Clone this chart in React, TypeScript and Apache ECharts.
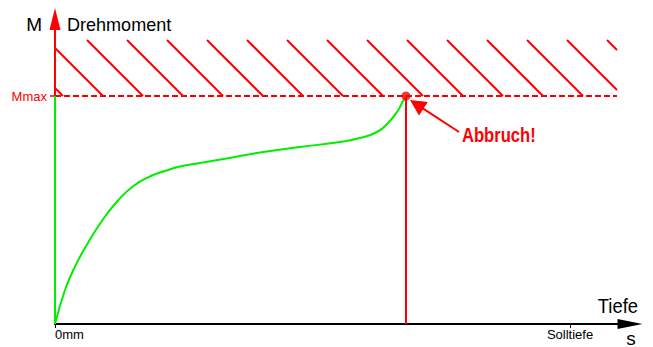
import React, { useEffect, useRef } from "react";
import * as echarts from "echarts";

// axis extents (1 unit = 5 px in both directions)
const X_MAX = 115;
const Y_MAX = 61;
const M_MAX = 45.6;
const ABBRUCH_X = 70.2;
const SOLL_X = 103;

// torque curve
const curveX = [0, 2, 4, 6.7, 10, 12.7, 15.7, 19, 22.3, 25, 29, 34.3, 41, 49, 57, 61, 64.4, 66.6, 68.4, 69.6, 70.2];
const curveY = [0, 6.8, 11.5, 16.4, 21.5, 24.8, 27.6, 29.5, 30.7, 31.5, 32.2, 33.1, 34.3, 35.4, 36.4, 37.2, 38.4, 40.2, 42.4, 44.6, 45.6];

// hatched forbidden zone above Mmax
const HATCH_TOP = 56.8;
const HATCH_RIGHT = 112.4;
const HATCH_X0 = 6.4;
const HATCH_STEP = 8;

// annotation arrow
const ARROW_FROM = [80.8, 38.4];
const ARROW_TIP = [71, 44.8];

const xLabels: Record<number, string> = { 0: "0mm", [SOLL_X]: "Solltiefe" };

const RED = "#ff0000";
const GREEN = "#00ee00";
const FONT = "'Liberation Sans', Arial, sans-serif";

function hatchSegments() {
  const segs: { coords: number[][] }[] = [];
  const h = HATCH_TOP - M_MAX;
  for (let k = -3; k < 20; k++) {
    const xt = HATCH_X0 + k * HATCH_STEP;
    const tmin = Math.max(0, -xt);
    const tmax = Math.min(h, HATCH_RIGHT - xt);
    if (tmin < tmax) {
      segs.push({ coords: [[xt + tmin, HATCH_TOP - tmin], [xt + tmax, HATCH_TOP - tmax]] });
    }
  }
  return segs;
}

export default function App() {
  const ref = useRef<HTMLDivElement>(null);
  useEffect(() => {
    const chart = echarts.init(ref.current!, null, { renderer: "svg" });
    // arrow head is centered on the end point: move it back half its length
    const headLenUnits = 16 / 5;
    const dx = ARROW_TIP[0] - ARROW_FROM[0];
    const dy = ARROW_TIP[1] - ARROW_FROM[1];
    const len = Math.hypot(dx, dy);
    const arrowEnd = [ARROW_TIP[0] - (dx / len) * headLenUnits / 2, ARROW_TIP[1] - (dy / len) * headLenUnits / 2];

    chart.setOption({
      animation: false,
      grid: { left: 55, right: 23, top: 19, bottom: 23 },
      xAxis: {
        type: "value",
        min: 0,
        max: X_MAX,
        splitLine: { show: false },
        axisLine: {
          onZero: false,
          lineStyle: { color: "#000", width: 2 },
          symbol: ["none", "triangle"],
          symbolSize: [10, 25],
        },
        axisTick: { customValues: [0, SOLL_X], length: 4, lineStyle: { color: "#000", width: 1 } },
        axisLabel: {
          customValues: [0, SOLL_X],
          formatter: (v: number) => xLabels[v] ?? "",
          color: "#000",
          fontSize: 13,
          fontFamily: FONT,
          margin: 4,
          alignMinLabel: "left",
        },
      },
      yAxis: {
        type: "value",
        min: 0,
        max: Y_MAX,
        splitLine: { show: false },
        axisLine: {
          onZero: false,
          lineStyle: { color: RED, width: 2 },
          symbol: ["none", "triangle"],
          symbolSize: [11, 22],
        },
        axisTick: { customValues: [M_MAX], length: 5, lineStyle: { color: RED, width: 1.5 } },
        axisLabel: {
          customValues: [M_MAX],
          formatter: () => "Mmax",
          color: RED,
          fontSize: 13,
          fontFamily: FONT,
          margin: 8,
        },
      },
      series: [
        {
          type: "lines",
          coordinateSystem: "cartesian2d",
          silent: true,
          lineStyle: { color: RED, width: 2, opacity: 1 },
          data: hatchSegments(),
          z: 3,
        },
        {
          type: "lines",
          coordinateSystem: "cartesian2d",
          silent: true,
          lineStyle: { color: RED, width: 2, type: [6, 3], opacity: 1 },
          data: [{ coords: [[0, M_MAX], [HATCH_RIGHT, M_MAX]] }],
          z: 3,
        },
        {
          type: "lines",
          coordinateSystem: "cartesian2d",
          silent: true,
          lineStyle: { color: GREEN, width: 2, opacity: 1 },
          data: [{ coords: [[0, 0], [0, M_MAX]] }],
          z: 4,
        },
        {
          type: "lines",
          coordinateSystem: "cartesian2d",
          silent: true,
          lineStyle: { color: RED, width: 2, opacity: 1 },
          data: [{ coords: [[ABBRUCH_X, 0], [ABBRUCH_X, M_MAX]] }],
          z: 4,
        },
        {
          type: "line",
          data: curveX.map((x, i) => [x, curveY[i]]),
          smooth: 0.5,
          showSymbol: false,
          lineStyle: { color: GREEN, width: 2 },
          z: 5,
        },
        {
          type: "scatter",
          data: [[ABBRUCH_X, M_MAX]],
          symbolSize: 9,
          itemStyle: { color: RED },
          z: 6,
        },
        {
          type: "lines",
          coordinateSystem: "cartesian2d",
          silent: true,
          symbol: ["none", "triangle"],
          symbolSize: [11, 16],
          lineStyle: { color: RED, width: 2, opacity: 1 },
          data: [{ coords: [ARROW_FROM, arrowEnd] }],
          z: 6,
        },
      ],
      graphic: [
        { type: "text", x: 42, y: 24, style: { text: "M", font: `19px ${FONT}`, fill: "#000", align: "right", verticalAlign: "middle" } },
        { type: "text", x: 67, y: 24, scaleX: 0.95, style: { text: "Drehmoment", font: `19px ${FONT}`, fill: "#000", align: "left", verticalAlign: "middle" } },
        { type: "text", x: 638, y: 306, scaleX: 0.92, style: { text: "Tiefe", font: `20px ${FONT}`, fill: "#000", align: "right", verticalAlign: "middle" } },
        { type: "text", x: 631, y: 338, style: { text: "s", font: `19px ${FONT}`, fill: "#000", align: "center", verticalAlign: "middle" } },
        {
          type: "text",
          x: 462,
          y: 135,
          scaleX: 0.83,
          style: {
            text: "Abbruch!",
            font: `bold 20px ${FONT}`,
            fill: RED,
            align: "left",
            verticalAlign: "middle",
          },
        },
      ],
    });
    return () => chart.dispose();
  }, []);
  return <div ref={ref} style={{ position: "absolute", left: 0, top: 0, width: 653, height: 347 }} />;
}
